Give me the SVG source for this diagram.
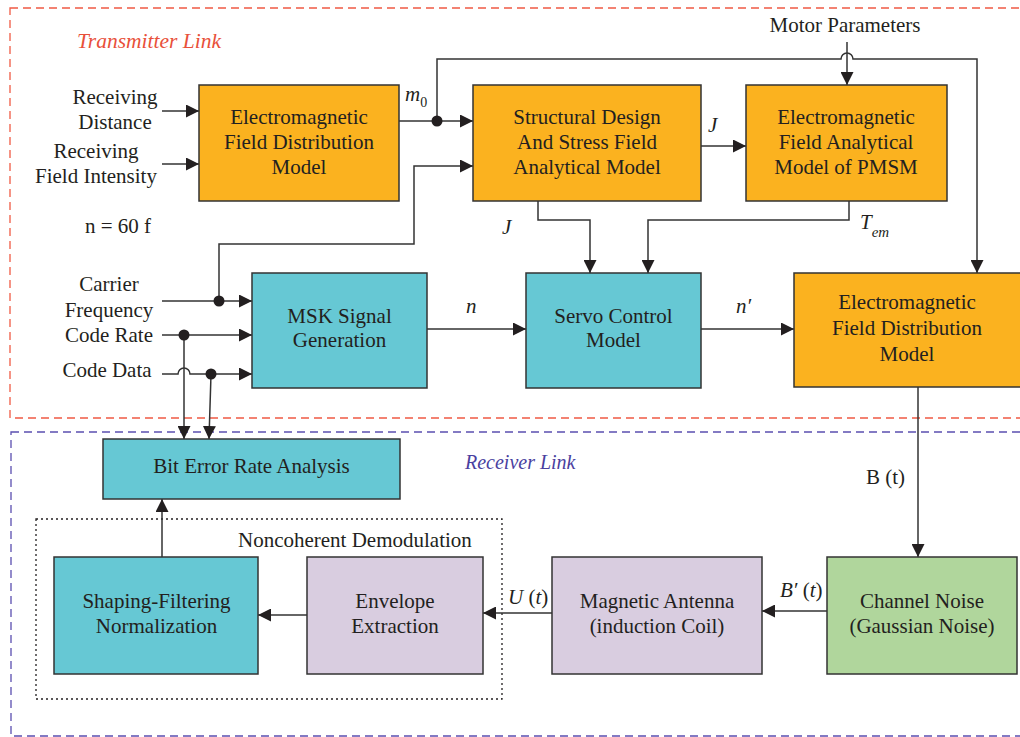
<svg xmlns="http://www.w3.org/2000/svg" width="1020" height="737" viewBox="0 0 1020 737">
<style>
.t{font-family:"Liberation Serif","Times New Roman",serif;font-size:21px;fill:#231f20;text-anchor:middle}
.l{font-family:"Liberation Serif","Times New Roman",serif;font-size:21px;fill:#231f20}
.i{font-style:italic}
.box{stroke:#333;stroke-width:1.5}
.or{fill:#fbb21f}.tl{fill:#66c8d4}.lv{fill:#d9cde0}.gr{fill:#b0d69c}
.c{fill:none;stroke:#333;stroke-width:1.5}
.a{marker-end:url(#ah)}
</style>
<defs>
<marker id="ah" markerUnits="userSpaceOnUse" markerWidth="14" markerHeight="13" refX="13" refY="6.5" orient="auto"><path d="M0,0 L13,6.5 L0,13 z" fill="#231f20"/></marker>
</defs>
<rect width="1020" height="737" fill="#fff"/>
<rect x="10" y="8" width="1030" height="410" fill="none" stroke="#f05a44" stroke-width="1.3" stroke-dasharray="8,5"/>
<rect x="11" y="432" width="1030" height="304" fill="none" stroke="#5b4fb0" stroke-width="1.3" stroke-dasharray="8,5"/>
<rect x="36" y="519" width="466" height="180" fill="none" stroke="#231f20" stroke-width="1.3" stroke-dasharray="2,3"/>
<text class="l i" x="77" y="48" style="fill:#e8503a;font-size:21.5px">Transmitter Link</text>
<text class="l i" x="465" y="469" style="fill:#4a3fa0;font-size:20px">Receiver Link</text>
<text class="t" x="845" y="32">Motor Parameters</text>
<text class="l" x="85" y="233">n = 60 f</text>
<text class="l" x="238" y="547">Noncoherent Demodulation</text>
<text class="t" x="115" y="104">Receiving</text>
<text class="t" x="115" y="129">Distance</text>
<text class="t" x="96" y="158">Receiving</text>
<text class="t" x="96" y="183">Field Intensity</text>
<text class="t" x="109" y="291">Carrier</text>
<text class="t" x="109" y="317">Frequency</text>
<text class="t" x="109" y="342">Code Rate</text>
<text class="t" x="107" y="377">Code Data</text>

<g id="connectors">
<path class="c a" d="M162,111 H199"/>
<path class="c a" d="M162,164 H199"/>
<path class="c a" d="M399,121 H473"/>
<path class="c a" d="M437,121 V59 H841 A6,6 0 0 1 853,59 H977 V273"/>
<path class="c a" d="M847,42 V85"/>
<path class="c a" d="M701,146 H746"/>
<path class="c a" d="M538,201 V220 H590 V273"/>
<path class="c a" d="M849,201 V220 H648 V273"/>
<path class="c a" d="M162,301 H252"/>
<path class="c a" d="M219,301 V244 H414 V166 H473"/>
<path class="c a" d="M162,335 H252"/>
<path class="c a" d="M162,374 H178 A6,6 0 0 1 190,374 H252"/>
<path class="c a" d="M184,335 V439"/>
<path class="c a" d="M211,374 L209,439"/>
<path class="c a" d="M427,329 H526"/>
<path class="c a" d="M701,329 H794"/>
<path class="c a" d="M918,387 V557"/>
<path class="c a" d="M827,611 H762"/>
<path class="c a" d="M552,613 H483"/>
<path class="c a" d="M307,615 H258"/>
<path class="c a" d="M162,557 V499"/>
<circle cx="437" cy="121" r="5.5" fill="#231f20"/>
<circle cx="219" cy="301" r="5.5" fill="#231f20"/>
<circle cx="184" cy="335" r="5.5" fill="#231f20"/>
<circle cx="211" cy="374" r="5.5" fill="#231f20"/>
<text class="l i" x="405" y="101">m<tspan font-size="14" font-style="normal" dy="6">0</tspan></text>
<text class="l i" x="708" y="132">J</text>
<text class="l i" x="502" y="234">J</text>
<text class="l i" x="860" y="229">T<tspan font-size="15" dy="8">em</tspan></text>
<text class="l i" x="466" y="313">n</text>
<text class="l i" x="736" y="313">n′</text>
<text class="l" x="866" y="484">B (t)</text>
<text class="l" x="780" y="597"><tspan font-style="italic">B′</tspan> (<tspan font-style="italic">t</tspan>)</text>
<text class="l" x="508" y="604"><tspan font-style="italic">U</tspan> (<tspan font-style="italic">t</tspan>)</text>
</g>

<g id="efdm1"><rect class="box or" x="199" y="85" width="200" height="116"/>
<text class="t" x="299" y="124">Electromagnetic</text><text class="t" x="299" y="149">Field Distribution</text><text class="t" x="299" y="174">Model</text></g>
<g id="structural"><rect class="box or" x="473" y="85" width="228" height="116"/>
<text class="t" x="587" y="124">Structural Design</text><text class="t" x="587" y="149">And Stress Field</text><text class="t" x="587" y="174">Analytical Model</text></g>
<g id="pmsm"><rect class="box or" x="746" y="85" width="201" height="116"/>
<text class="t" x="846" y="124">Electromagnetic</text><text class="t" x="846" y="149">Field Analytical</text><text class="t" x="846" y="174">Model of PMSM</text></g>
<g id="msk"><rect class="box tl" x="252" y="273" width="175" height="115"/>
<text class="t" x="339.5" y="323">MSK Signal</text><text class="t" x="339.5" y="347">Generation</text></g>
<g id="servo"><rect class="box tl" x="526" y="273" width="175" height="115"/>
<text class="t" x="613.5" y="323">Servo Control</text><text class="t" x="613.5" y="347">Model</text></g>
<g id="efdm2"><rect class="box or" x="794" y="273" width="240" height="114"/>
<text class="t" x="907" y="309">Electromagnetic</text><text class="t" x="907" y="335">Field Distribution</text><text class="t" x="907" y="361">Model</text></g>
<g id="ber"><rect class="box tl" x="103" y="439" width="297" height="60"/>
<text class="t" x="251.5" y="473">Bit Error Rate Analysis</text></g>
<g id="shaping"><rect class="box tl" x="54" y="557" width="204" height="117"/>
<text class="t" x="156.5" y="608">Shaping-Filtering</text><text class="t" x="156.5" y="633">Normalization</text></g>
<g id="envelope"><rect class="box lv" x="307" y="557" width="176" height="117"/>
<text class="t" x="395" y="608">Envelope</text><text class="t" x="395" y="633">Extraction</text></g>
<g id="antenna"><rect class="box lv" x="552" y="557" width="210" height="117"/>
<text class="t" x="657" y="608">Magnetic Antenna</text><text class="t" x="657" y="633">(induction Coil)</text></g>
<g id="noise"><rect class="box gr" x="827" y="557" width="190" height="117"/>
<text class="t" x="922" y="608">Channel Noise</text><text class="t" x="922" y="633">(Gaussian Noise)</text></g>
</svg>
